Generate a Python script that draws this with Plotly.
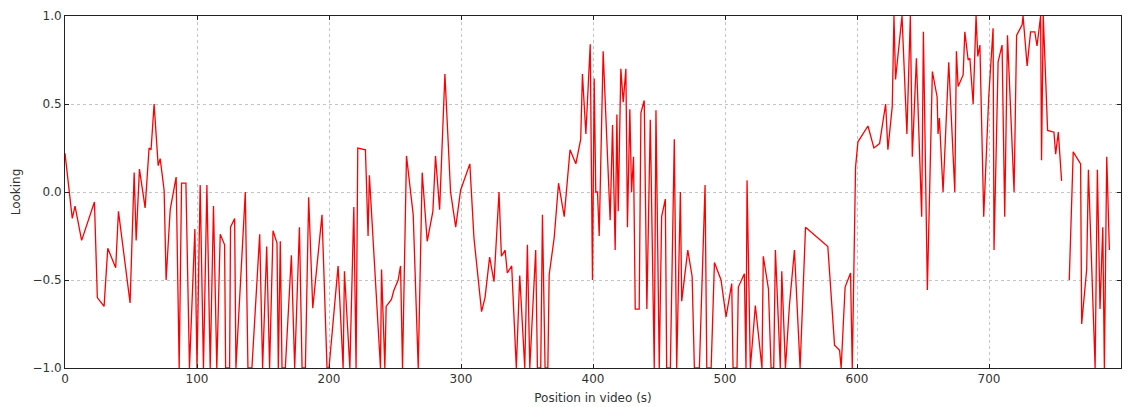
import plotly.graph_objects as go

position_s = [
    0, 5.5, 7.6, 12.6, 22.3, 24.5, 29.6, 32.4, 38.4, 40.5, 49.3, 52.4, 53.9, 56.4, 60.7,
    63.7, 65.2, 67.5, 70.6, 72.1, 75.1, 76.6, 79.7, 84.2, 86.5, 88.3, 91.6, 94.3, 98.4,
    100, 102.4, 104.9, 107.5, 110, 112.5, 115, 117.6, 120.9, 121.7, 124.7, 125.4, 128.5,
    129.5, 136.6, 138.6, 141.6, 147.5, 149.7, 152.8, 155, 157.6, 160.6, 161.6, 163.1,
    164.4, 166.9, 171.5, 174, 177.6, 179.6, 182.1, 184.6, 187.7, 194.7, 198.5,
    200, 206.9, 210.7, 211.7, 215.8, 218.8, 220.5, 221.8, 227.6, 229.6, 230.6, 239,
    239.8, 242.3, 243.3, 247.3, 249.1, 252.4, 254.2, 255.7, 258.7, 263.8, 267.6, 270.6,
    274.4, 278.7, 280.7, 283.8, 287.8, 292.1, 296, 299.7,
    306.7, 309.8, 315.6, 318.2, 321.7, 325, 328.8, 330.6, 333.4, 335.1, 338.4, 341.9,
    344.5, 348.3, 350.3, 352.1, 356.6, 357.9, 360.4, 361.7, 363.7, 365.8, 366.8, 370.6,
    373.9, 378.2, 382.6, 387, 390.7, 392, 394.6, 397.9,
    399.6, 400.9, 402.1, 403.4, 404.7, 407.7, 413, 414.8, 416.8, 418.1, 419.1, 421.1,
    422.9, 424.9, 426.1, 427.9, 429.2, 430.7, 432, 435, 436.3, 438.8, 440.8, 443.4,
    446.4, 447.7, 450.2, 452, 454.8, 455.8, 458.6, 461.6, 463.4, 466.2, 467.2, 471.8,
    475.1, 476.8, 480.6, 484.9, 486.2, 489.5, 492, 497,
    500.8, 505.1, 506.1, 509.1, 510.1, 514.7, 515.9, 516.7, 519.2, 523, 528, 529, 532.9,
    534.9, 536.9, 538.2, 541.9, 543, 545.8, 548.8, 552.6, 556.9, 561, 577.9, 583, 586.8,
    588, 591, 595.1, 596.4, 598.9, 600.7, 608.3, 612.8, 617.1, 621.7, 623.4, 626.7, 628,
    629.2, 634.1, 637.8, 640.4, 641.9, 645, 649, 650.3, 653.3, 657.1, 660.7, 661.4, 662.4,
    665.2, 669.5, 674.1, 675.3, 676.6, 680.4, 681.7, 684.2, 685.5, 688, 690.2, 691.5,
    693.1, 696, 699.8, 703.1, 703.8, 706.9, 709.9, 711.9, 714, 719, 720.9, 725.1, 725.8,
    728.9, 731.5, 734.7, 736.4, 739.1, 739.8, 741.1, 744.4, 749.2, 750.5, 752.5, 755,
    757.5,
    760.8, 763.8, 769.4, 770.2, 774, 775.3, 780.4, 782.1, 784.1, 786.2, 787.4, 789.2, 791.2,
]

looking = [
    0.22, -0.15, -0.08, -0.275, -0.057, -0.6, -0.65, -0.32, -0.43, -0.11, -0.63, 0.11, -0.275, 0.13, -0.09,
    0.25, 0.24, 0.50, 0.15, 0.19, 0.01, -0.5, -0.10, 0.085, -1.0, 0.05, 0.05, -1.0, -0.21,
    -1.0, 0.04, -1.0, 0.04, -1.0, -0.08, -1.0, -0.24, -0.30, -1.0, -1.0, -0.2, -0.15,
    -1.0, 0.0, -1.0, -1.0, -0.24, -1.0, -0.31, -1.0, -0.22, -0.29, -1.0, -0.28,
    -1.0, -1.0, -0.36, -1.0, -0.2, -1.0, -1.0, -0.03, -0.66, -0.13, -1.0,
    -1.0, -0.42, -1.0, -0.45, -1.0, -0.085, -1.0, 0.25, 0.24, -0.25, 0.095, -1.0,
    -0.44, -1.0, -0.65, -0.61, -0.56, -0.5, -0.42, -1.0, 0.205, -0.13, -1.0, 0.11,
    -0.28, -0.11, 0.205, -0.10, 0.67, 0.0, -0.2, 0.01,
    0.16, -0.26, -0.68, -0.6, -0.37, -0.51, 0.0, -0.365, -0.33, -0.46, -0.42, -1.0,
    -0.475, -1.0, -0.30, -1.0, -0.33, -1.0, -1.0, -0.13, -1.0, -1.0, -0.47, -0.26,
    0.05, -0.14, 0.24, 0.16, 0.30, 0.67, 0.33, 0.84,
    -0.5, 0.645, 0.0, 0.0, -0.25, 0.80, -0.16, 0.38, -0.33, 0.44, -0.11, 0.70,
    0.51, 0.70, -0.2, 0.47, 0.0, 0.2, -0.665, -0.665, 0.45, 0.52, -0.665, 0.41,
    -1.0, 0.465, -1.0, -0.14, -0.04, -1.0, -1.0, 0.30, -1.0, 0.0, -0.62, -0.33,
    -0.48, -1.0, -1.0, 0.04, -1.0, -1.0, -0.40, -0.5,
    -0.71, -0.52, -1.0, -1.0, -0.54, -0.465, -1.0, 0.066, -1.0, -0.645, -1.0, -0.365, -0.55,
    -1.0, -1.0, -0.33, -1.0, -0.45, -1.0, -0.645, -0.33, -1.0, -0.2, -0.31, -0.87, -0.90,
    -1.0, -0.54, -0.46, -1.0, 0.14, 0.285, 0.375, 0.25, 0.275, 0.50, 0.24, 0.485, 1.0,
    0.64, 1.0, 0.33, 1.0, 0.2, 0.76, -0.14, 0.91, -0.557, 0.684, 0.54, 0.33, 0.42,
    0.0, 0.737, 0.0, 0.80, 0.60, 0.665, 0.91, 0.75, 0.76, 0.50, 1.0, 0.77,
    0.835, -0.14, 0.54, 0.93, -0.33, 0.74, 0.835, -0.14, 0.89, 0.0, 0.89, 0.95, 1.0,
    0.716, 0.91, 0.91, 0.83, 1.0, 0.18, 1.0, 0.35, 0.34, 0.215, 0.34, 0.063,
    None,
    -0.5, 0.228, 0.16, -0.75, -0.44, 0.127, -1.0, 0.127, -0.665, -0.2, -1.0, 0.2, -0.33,
]

x_ticks = [0, 100, 200, 300, 400, 500, 600, 700, 800]
y_ticks = [-1.0, -0.5, 0.0, 0.5, 1.0]

fig = go.Figure()
fig.add_trace(go.Scatter(
    x=position_s, y=looking, mode="lines",
    line=dict(color="#ff0000", width=1.3),
    connectgaps=False, cliponaxis=True,
))

text_color = "#333333"
axis_common = dict(
    showline=True, linecolor="#222222", linewidth=1, mirror="allticks",
    ticks="inside", ticklen=4, tickcolor="#222222",
    showgrid=True, gridcolor="#c4c4c4", griddash="dot", gridwidth=1,
    zeroline=False, automargin=False,
    tickfont=dict(family="DejaVu Sans", size=12, color=text_color),
    title_font=dict(family="DejaVu Sans", size=12, color=text_color),
)

fig.update_xaxes(
    range=[0, 800], tickvals=x_ticks, ticktext=[str(v) for v in x_ticks],
    title_text="Position in video (s)", title_standoff=8, **axis_common,
)
fig.update_yaxes(
    range=[-1, 1], tickvals=y_ticks, tickformat=".1f",
    title_text="Looking", title_standoff=9, **axis_common,
)

fig.update_layout(
    width=1132, height=407,
    margin=dict(l=65, r=11, t=16, b=39, autoexpand=False),
    plot_bgcolor="white", paper_bgcolor="white",
    showlegend=False,
)

fig.write_html("out.html")
